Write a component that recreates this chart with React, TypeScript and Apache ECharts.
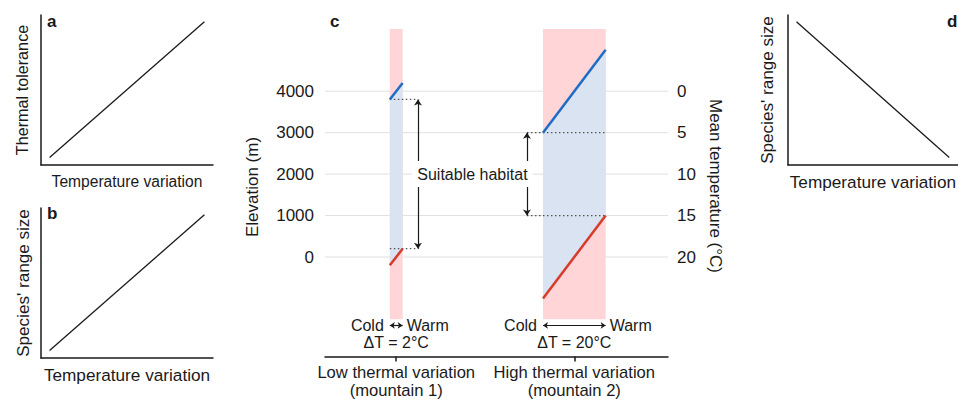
import React, { useEffect, useRef } from 'react';
import * as echarts from 'echarts';

const FONT = '"Liberation Sans", Arial, Helvetica, sans-serif';
const INK = '#1a1a1a';
const PINK = '#ffd5d7';
const LIGHT_BLUE = '#dae3f1';
const BLUE = '#1f6cc7';
const RED = '#d83a2c';
const GRID_GRAY = '#e0e0e0';

// ---- panels a, b, d (schematic relationships) ----
const trendX = [0.05, 0.95];
const thermalTolerance = [0.05, 0.955];
const rangeSizeB = [0.05, 0.955];
const rangeSizeD = [0.955, 0.05];

// ---- panel c ----
const mountainNames = ['Low thermal variation\n(mountain 1)', 'High thermal variation\n(mountain 2)'];
const mountainCenter = [2, 7];
const coldEdge = [1.82, 6.12];
const warmEdge = [2.18, 7.88];
const bandElevation = [-1500, 5500];
const upperCold = [3800, 3000];
const upperWarm = [4200, 5000];
const lowerCold = [-200, -1000];
const lowerWarm = [200, 1000];
const habitatArrowX = [2.61, 5.67];
const deltaT = ['ΔT = 2°C', 'ΔT = 20°C'];
const elevationTicks = [0, 1000, 2000, 3000, 4000];
const temperatureTicks = [20, 15, 10, 5, 0];
const gradientArrowElevation = -1650;
const deltaTElevation = -2070;
const habitatLabelElevation = 2000;
const X_MAX = 9.63;

const idx = [0, 1];

function simpleAxis(gridIndex: number, name: string, nameGap: number, fontSize: number) {
  return {
    gridIndex,
    type: 'value',
    min: 0,
    max: 1,
    name,
    nameLocation: 'middle',
    nameGap,
    nameTextStyle: { fontSize, color: INK, fontFamily: FONT },
    axisLine: { show: true, onZero: false, lineStyle: { color: INK, width: 1.5 } },
    axisTick: { show: false },
    axisLabel: { show: false },
    splitLine: { show: false },
  };
}

function trendSeries(i: number, ys: number[]) {
  return {
    type: 'line',
    xAxisIndex: i,
    yAxisIndex: i,
    data: trendX.map((x, k) => [x, ys[k]]),
    symbol: 'none',
    silent: true,
    lineStyle: { color: INK, width: 1.3 },
  };
}

export default function App() {
  const ref = useRef<HTMLDivElement>(null);

  useEffect(() => {
    if (!ref.current) return;
    const chart = echarts.init(ref.current, undefined, { renderer: 'svg' });

    const gridSeries = elevationTicks.map((t) => ({
      type: 'line',
      xAxisIndex: 3,
      yAxisIndex: 3,
      data: [[0, t], [X_MAX, t]],
      symbol: 'none',
      silent: true,
      z: 0,
      lineStyle: { color: GRID_GRAY, width: 1 },
    }));

    const limitSeries = idx.flatMap((i) => [
      {
        type: 'line', xAxisIndex: 3, yAxisIndex: 3, symbol: 'none', silent: true, z: 4,
        data: [[coldEdge[i], upperCold[i]], [warmEdge[i], upperWarm[i]]],
        lineStyle: { color: BLUE, width: 2.5 },
      },
      {
        type: 'line', xAxisIndex: 3, yAxisIndex: 3, symbol: 'none', silent: true, z: 4,
        data: [[coldEdge[i], lowerCold[i]], [warmEdge[i], lowerWarm[i]]],
        lineStyle: { color: RED, width: 2.5 },
      },
    ]);

    const dottedSeries: any[] = idx.flatMap((i) => {
      const a = Math.min(coldEdge[i], habitatArrowX[i]);
      const b = Math.max(warmEdge[i], habitatArrowX[i]);
      return [upperCold[i], lowerWarm[i]].map((e) => ({
        type: 'line', xAxisIndex: 3, yAxisIndex: 3, symbol: 'none', silent: true, z: 3,
        data: [[a, e], [b, e]],
        lineStyle: { color: '#555', width: 1.2, type: [1.5, 2.5] },
      }));
    });

    dottedSeries[0].markLine = {
      silent: true,
      z: 5,
      symbol: ['arrow', 'arrow'],
      symbolSize: 6,
      label: { show: false },
      lineStyle: { color: INK, width: 1.2, type: 'solid' },
      data: [
        ...idx.map((i) => [
          { coord: [habitatArrowX[i], upperCold[i]] },
          { coord: [habitatArrowX[i], lowerWarm[i]] },
        ]),
        ...idx.map((i) => [
          { coord: [coldEdge[i], gradientArrowElevation], symbolSize: 5 },
          { coord: [warmEdge[i], gradientArrowElevation], symbolSize: 5 },
        ]),
      ],
    };

    const textStyleBase = { fill: INK, fontFamily: FONT };

    const option: any = {
      animation: false,
      textStyle: { fontFamily: FONT, color: INK },
      grid: [
        { left: 41, top: 15, width: 172, height: 150 },
        { left: 41, top: 208, width: 172, height: 150 },
        { left: 788, top: 15, width: 172, height: 150 },
        { left: 325, top: 29, width: 343, height: 327.5 },
      ],
      xAxis: [
        simpleAxis(0, 'Temperature variation', 8.5, 15.6),
        simpleAxis(1, 'Temperature variation', 8, 17.2),
        simpleAxis(2, 'Temperature variation', 8.5, 17.2),
        {
          gridIndex: 3,
          type: 'value',
          min: 0,
          max: X_MAX,
          axisLine: { show: true, onZero: false, lineStyle: { color: INK, width: 1.5 } },
          axisTick: { show: true, length: 5, lineStyle: { color: INK, width: 1.5 }, customValues: mountainCenter },
          axisLabel: {
            customValues: mountainCenter,
            formatter: (v: number) => {
              const k = mountainCenter.findIndex((c) => Math.abs(c - v) < 1e-6);
              return k >= 0 ? mountainNames[k] : '';
            },
            margin: 7,
            fontSize: 16.6,
            lineHeight: 18,
            color: INK,
            fontFamily: FONT,
          },
          splitLine: { show: false },
        },
      ],
      yAxis: [
        simpleAxis(0, 'Thermal tolerance', 11, 16.2),
        simpleAxis(1, "Species' range size", 9.5, 17.1),
        simpleAxis(2, "Species' range size", 12, 17.1),
        {
          gridIndex: 3,
          type: 'value',
          min: -2400,
          max: 5500,
          interval: 200,
          axisLine: { show: false },
          axisTick: { show: false },
          splitLine: { show: false },
          axisLabel: {
            formatter: (v: number) => (elevationTicks.includes(v) ? String(v) : ''),
            margin: 11,
            fontSize: 17,
            color: INK,
            fontFamily: FONT,
          },
        },
        {
          gridIndex: 3,
          type: 'value',
          position: 'right',
          min: -2400,
          max: 5500,
          interval: 200,
          axisLine: { show: false },
          axisTick: { show: false },
          splitLine: { show: false },
          axisLabel: {
            formatter: (v: number) => {
              const k = elevationTicks.indexOf(v);
              return k >= 0 ? String(temperatureTicks[k]) : '';
            },
            margin: 9,
            fontSize: 17,
            color: INK,
            fontFamily: FONT,
          },
        },
      ],
      graphic: [
        { type: 'text', left: 47, top: 13, style: { text: 'a', fontSize: 17, fontWeight: 'bold', ...textStyleBase } },
        { type: 'text', left: 47, top: 205, style: { text: 'b', fontSize: 17, fontWeight: 'bold', ...textStyleBase } },
        { type: 'text', left: 330, top: 13, style: { text: 'c', fontSize: 17, fontWeight: 'bold', ...textStyleBase } },
        { type: 'text', left: 947, top: 13, style: { text: 'd', fontSize: 17, fontWeight: 'bold', ...textStyleBase } },
        {
          type: 'text', x: 252, y: 187, rotation: Math.PI / 2,
          style: { text: 'Elevation (m)', fontSize: 17, align: 'center', verticalAlign: 'middle', ...textStyleBase },
        },
        {
          type: 'text', x: 715, y: 186, rotation: -Math.PI / 2,
          style: { text: 'Mean temperature (°C)', fontSize: 17, align: 'center', verticalAlign: 'middle', ...textStyleBase },
        },
      ],
      series: [
        trendSeries(0, thermalTolerance),
        trendSeries(1, rangeSizeB),
        trendSeries(2, rangeSizeD),
        ...gridSeries,
        {
          type: 'custom',
          xAxisIndex: 3,
          yAxisIndex: 3,
          z: 1,
          silent: true,
          encode: { x: [0, 1], y: [2, 3] },
          data: idx.map((i) => [coldEdge[i], warmEdge[i], bandElevation[0], bandElevation[1]]),
          renderItem: (_p: any, api: any) => {
            const p0 = api.coord([api.value(0), api.value(3)]);
            const p1 = api.coord([api.value(1), api.value(2)]);
            return {
              type: 'rect',
              shape: { x: p0[0], y: p0[1], width: p1[0] - p0[0], height: p1[1] - p0[1] },
              style: { fill: PINK },
            };
          },
        },
        {
          type: 'custom',
          xAxisIndex: 3,
          yAxisIndex: 3,
          z: 2,
          silent: true,
          encode: { x: [0, 1], y: [2, 3, 4, 5] },
          data: idx.map((i) => [coldEdge[i], warmEdge[i], lowerCold[i], lowerWarm[i], upperCold[i], upperWarm[i]]),
          renderItem: (_p: any, api: any) => {
            const x0 = api.value(0), x1 = api.value(1);
            const pts = [
              api.coord([x0, api.value(2)]),
              api.coord([x1, api.value(3)]),
              api.coord([x1, api.value(5)]),
              api.coord([x0, api.value(4)]),
            ];
            return { type: 'polygon', shape: { points: pts }, style: { fill: LIGHT_BLUE } };
          },
        },
        ...limitSeries,
        ...dottedSeries,
        {
          type: 'custom',
          xAxisIndex: 3,
          yAxisIndex: 3,
          z: 10,
          silent: true,
          encode: { x: 0, y: 1 },
          data: [[(habitatArrowX[0] + habitatArrowX[1]) / 2, habitatLabelElevation]],
          renderItem: (_p: any, api: any) => {
            const p = api.coord([api.value(0), api.value(1)]);
            return {
              type: 'text',
              x: p[0],
              y: p[1],
              style: {
                text: 'Suitable habitat',
                fontSize: 16,
                align: 'center',
                verticalAlign: 'middle',
                backgroundColor: '#ffffff',
                padding: [5, 5],
                ...textStyleBase,
              },
            };
          },
        },
        {
          type: 'custom',
          xAxisIndex: 3,
          yAxisIndex: 3,
          z: 10,
          silent: true,
          encode: { x: [0, 1, 3], y: [2, 4] },
          data: idx.map((i) => [coldEdge[i], warmEdge[i], gradientArrowElevation, mountainCenter[i], deltaTElevation]),
          renderItem: (params: any, api: any) => {
            const i = params.dataIndex;
            const pc = api.coord([api.value(0), api.value(2)]);
            const pw = api.coord([api.value(1), api.value(2)]);
            const pd = api.coord([api.value(3), api.value(4)]);
            return {
              type: 'group',
              children: [
                { type: 'text', x: pc[0] - 6, y: pc[1], style: { text: 'Cold', fontSize: 16, align: 'right', verticalAlign: 'middle', ...textStyleBase } },
                { type: 'text', x: pw[0] + 4, y: pw[1], style: { text: 'Warm', fontSize: 16, align: 'left', verticalAlign: 'middle', ...textStyleBase } },
                { type: 'text', x: pd[0], y: pd[1], style: { text: deltaT[i], fontSize: 16, align: 'center', verticalAlign: 'middle', ...textStyleBase } },
              ],
            };
          },
        },
      ],
    };

    chart.setOption(option);
    return () => chart.dispose();
  }, []);

  return (
    <div
      ref={ref}
      style={{ position: 'fixed', left: 0, top: 0, width: 958, height: 402, background: '#fff' }}
    />
  );
}
